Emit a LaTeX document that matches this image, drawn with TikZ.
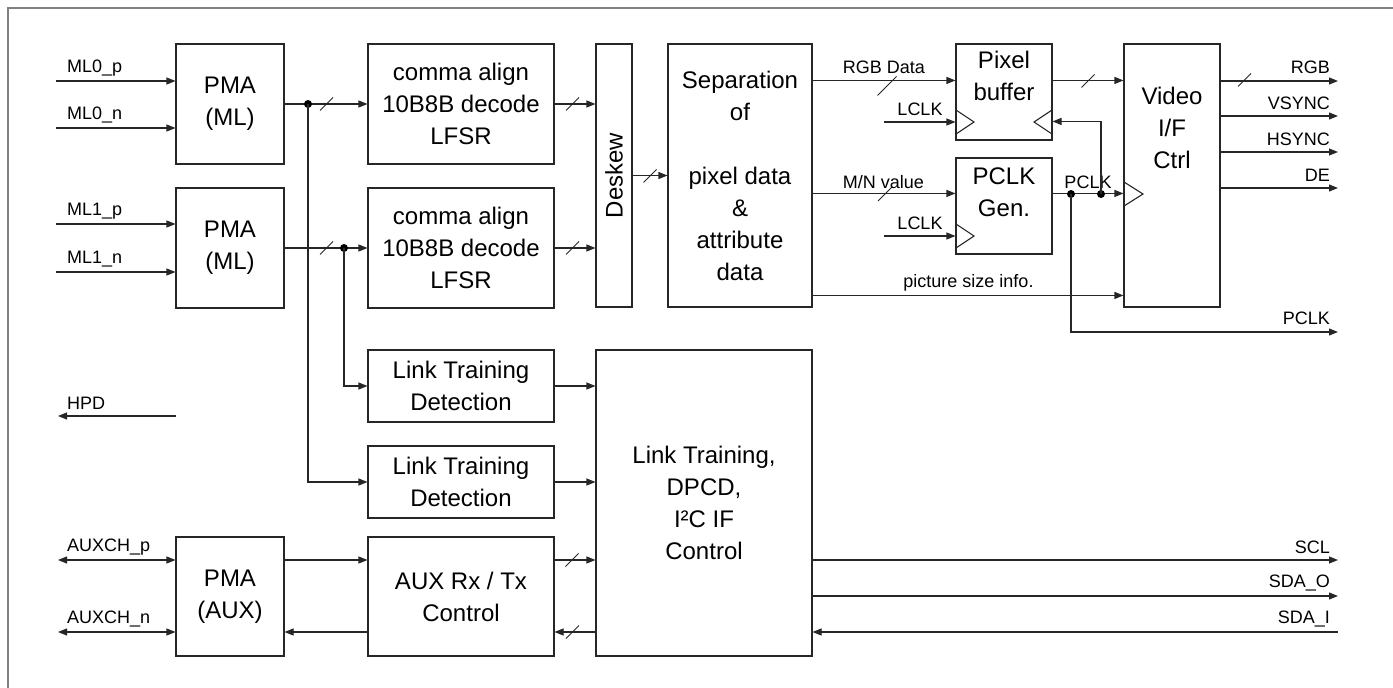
\documentclass[tikz,border=0pt]{standalone}
\usepackage{fontspec}
\setmainfont{Liberation Sans}
\usetikzlibrary{arrows.meta,calc}

\tikzset{
  wire/.style={line width=1.1pt, draw=black!85},
  sig/.style={wire, -{Triangle[length=9pt,width=7pt]}},
  bidir/.style={wire, {Triangle[length=9pt,width=7pt]}-{Triangle[length=9pt,width=7pt]}},
  blk/.style={draw=black!85, line width=1.1pt, inner sep=0pt, align=center,
              font=\fontsize{24}{32}\selectfont},
  txt/.style={inner sep=0pt, align=center, font=\fontsize{24}{32}\selectfont},
  lbl/.style={inner sep=0pt, font=\fontsize{18}{20}\selectfont},
  jdot/.style={circle, fill=black, inner sep=0pt, minimum size=8pt},
  pics/busmark/.style={code={\draw[line width=0.9pt, black!85] (-#1,#1) -- (#1,-#1);}},
}

\begin{document}
\begin{tikzpicture}[x=1pt, y=-1pt]
\useasboundingbox (0,0) rectangle (1393,688);

% frame
\draw[line width=2pt, black!50] (8,688) -- (8,8) -- (1393,8);

% ---------- blocks ----------
\node[blk, minimum width=108pt, minimum height=120pt] (pma0) at (230,104) {PMA\\(ML)};
\node[blk, minimum width=108pt, minimum height=120pt] (pma1) at (230,248) {PMA\\(ML)};
\node[blk, minimum width=108pt, minimum height=119pt] (pmaaux) at (230,596.5) {PMA\\(AUX)};

\node[blk, minimum width=186pt, minimum height=120pt] (dec0) at (461,104) {comma align\\10B8B decode\\LFSR};
\node[blk, minimum width=186pt, minimum height=120pt] (dec1) at (461,248) {comma align\\10B8B decode\\LFSR};
\node[blk, minimum width=186pt, minimum height=72pt] (ltd0) at (461,386) {Link Training\\Detection};
\node[blk, minimum width=186pt, minimum height=72pt] (ltd1) at (461,482) {Link Training\\Detection};
\node[blk, minimum width=186pt, minimum height=119pt] (aux) at (461,596.5) {AUX Rx / Tx\\Control};

\node[blk, minimum width=36pt, minimum height=263pt] (desk) at (614,175.5) {};
\node[txt, rotate=90] (desktxt) at (614,175.5) {Deskew};

\node[blk, minimum width=144pt, minimum height=263pt] (sep) at (740,175.5)
  {Separation\\of\\[32pt]pixel data\\\&\\attribute\\data};

\node[blk, minimum width=216pt, minimum height=306pt] (ltc) at (704,503)
  {Link Training,\\DPCD,\\I²C IF\\Control};

\node[blk, minimum width=96pt, minimum height=96pt] (pbuf) at (1004,92) {};
\node[txt] (pbuftxt) at (1004,76) {Pixel\\buffer};
\node[blk, minimum width=96pt, minimum height=96pt] (pgen) at (1004,206) {};
\node[txt] (pgentxt) at (1004,192.5) {PCLK\\Gen.};
\node[blk, minimum width=96pt, minimum height=263pt] (vid) at (1172,175.5) {};
\node[txt] (vidtxt) at (1172,128) {Video\\I/F\\Ctrl};

% clock input marks
\draw[wire] (956,110) -- (974,122) -- (956,134);
\draw[wire] (1052,110) -- (1034,122) -- (1052,134);
\draw[wire] (956,224) -- (974,236) -- (956,248);
\draw[wire] (1124,182) -- (1143,194) -- (1124,206);

% ---------- main link inputs ----------
\coordinate (ml0p) at (56,81);
\coordinate (ml0n) at (56,128);
\coordinate (ml1p) at (56,224);
\coordinate (ml1n) at (56,272);
\draw[sig] (ml0p) -- (ml0p -| pma0.west);
\draw[sig] (ml0n) -- (ml0n -| pma0.west);
\draw[sig] (ml1p) -- (ml1p -| pma1.west);
\draw[sig] (ml1n) -- (ml1n -| pma1.west);
\node[lbl, anchor=west] (lml0p) at (67,68) {ML0\_p};
\node[lbl, anchor=west] (lml0n) at (67,115) {ML0\_n};
\node[lbl, anchor=west] (lml1p) at (67,211) {ML1\_p};
\node[lbl, anchor=west] (lml1n) at (67,259) {ML1\_n};

% PMA to decoders, taps to training detection
\draw[sig] (pma0.east) -- (dec0.west);
\draw[sig] (pma1.east) -- (dec1.west);
\node[jdot] (j0) at (308,104) {};
\node[jdot] (j1) at (344,248) {};
\draw[sig] (j0.center) |- (ltd1.west);
\draw[sig] (j1.center) |- (ltd0.west);
\pic at (326.5,104) {busmark=6.5};
\pic at (326.5,248) {busmark=6.5};

% decoders to deskew to separation
\draw[sig] (dec0.east) -- (dec0.east -| desk.west);
\draw[sig] (dec1.east) -- (dec1.east -| desk.west);
\pic at (572.5,104) {busmark=6.5};
\pic at (572.5,248) {busmark=6.5};
\draw[sig] (desk.east) -- (desk.east -| sep.west);
\pic at (650,176) {busmark=6.5};

% ---------- video path ----------
\draw[sig] ($(sep.north east)+(0,37)$) -- ($(pbuf.north west)+(0,37)$);
\pic at (887,86) {busmark=9.5};
\node[lbl] (lrgbd) at (884,67) {RGB Data};

\coordinate (lclk0) at (884,122);
\draw[sig] (lclk0) -- (lclk0 -| pbuf.west);
\node[lbl] (llclk0) at (920,109) {LCLK};

\draw[sig] ($(sep.north east)+(0,150)$) -- ($(pgen.north west)+(0,36)$);
\pic at (885,194) {busmark=7};
\node[lbl] (lmn) at (883.5,182) {M/N value};

\coordinate (lclk1) at (884,236);
\draw[sig] (lclk1) -- (lclk1 -| pgen.west);
\node[lbl] (llclk1) at (920,223) {LCLK};

\draw[sig] ($(sep.north east)+(0,252)$) -- ($(vid.north west)+(0,252)$);
\node[lbl] (lpsi) at (968.5,283) {picture size info.};

\draw[sig] ($(pbuf.north east)+(0,37)$) -- ($(vid.north west)+(0,37)$);
\pic at (1088,81) {busmark=6.5};

\draw[sig] ($(pgen.north east)+(0,36)$) -- ($(vid.north west)+(0,150)$);
\node[lbl] (lpclkm) at (1088,182) {PCLK};
\node[jdot] (ja) at (1071,194) {};
\node[jdot] (jb) at (1101,194) {};
\draw[sig] (jb.center) |- ($(pbuf.north east)+(0,78)$);
\coordinate (opclk) at (1338,332);
\draw[sig] (ja.center) |- (opclk);
\node[lbl, anchor=east] (lpclko) at (1330,318) {PCLK};

% video outputs
\coordinate (orgb) at (1338,81);
\coordinate (ovs) at (1338,116);
\coordinate (ohs) at (1338,152);
\coordinate (ode) at (1338,188);
\draw[sig] (orgb -| vid.east) -- (orgb);
\draw[sig] (ovs -| vid.east) -- (ovs);
\draw[sig] (ohs -| vid.east) -- (ohs);
\draw[sig] (ode -| vid.east) -- (ode);
\pic at (1244.5,80) {busmark=6.5};
\node[lbl, anchor=east] (lrgb) at (1330,67) {RGB};
\node[lbl, anchor=east] (lvs) at (1330,103) {VSYNC};
\node[lbl, anchor=east] (lhs) at (1330,139) {HSYNC};
\node[lbl, anchor=east] (lde) at (1330,175) {DE};

% ---------- training / aux ----------
\draw[sig] (ltd0.east) -- (ltd0.east -| ltc.west);
\draw[sig] (ltd1.east) -- (ltd1.east -| ltc.west);

\coordinate (hpdsrc) at (176,416);
\coordinate (hpd) at (58,416);
\draw[sig] (hpdsrc) -- (hpd);
\node[lbl, anchor=west] (lhpd) at (67,403) {HPD};

\coordinate (auxp) at (58,560);
\coordinate (auxn) at (58,632);
\draw[bidir] (auxp) -- (auxp -| pmaaux.west);
\draw[bidir] (auxn) -- (auxn -| pmaaux.west);
\node[lbl, anchor=west] (lauxp) at (67,547) {AUXCH\_p};
\node[lbl, anchor=west] (lauxn) at (67,619) {AUXCH\_n};

% aux channel rows
\coordinate (rowtx) at (0,560);
\coordinate (rowrx) at (0,632);
\draw[sig] (rowtx -| pmaaux.east) -- (rowtx -| aux.west);
\draw[sig] (rowrx -| aux.west) -- (rowrx -| pmaaux.east);
\draw[sig] (rowtx -| aux.east) -- (rowtx -| ltc.west);
\pic at (572,560) {busmark=6.5};
\draw[sig] (rowrx -| ltc.west) -- (rowrx -| aux.east);
\pic at (572.5,632) {busmark=6.5};

% i2c side
\coordinate (oscl) at (1338,560);
\coordinate (osdao) at (1338,596);
\coordinate (osdai) at (1338,632);
\draw[sig] (oscl -| ltc.east) -- (oscl);
\draw[sig] (osdao -| ltc.east) -- (osdao);
\draw[sig] (osdai) -- (osdai -| ltc.east);
\node[lbl, anchor=east] (lscl) at (1330,547) {SCL};
\node[lbl, anchor=east] (lsdao) at (1330,583) {SDA\_O};
\node[lbl, anchor=east] (lsdai) at (1330,619) {SDA\_I};
\end{tikzpicture}
\end{document}
